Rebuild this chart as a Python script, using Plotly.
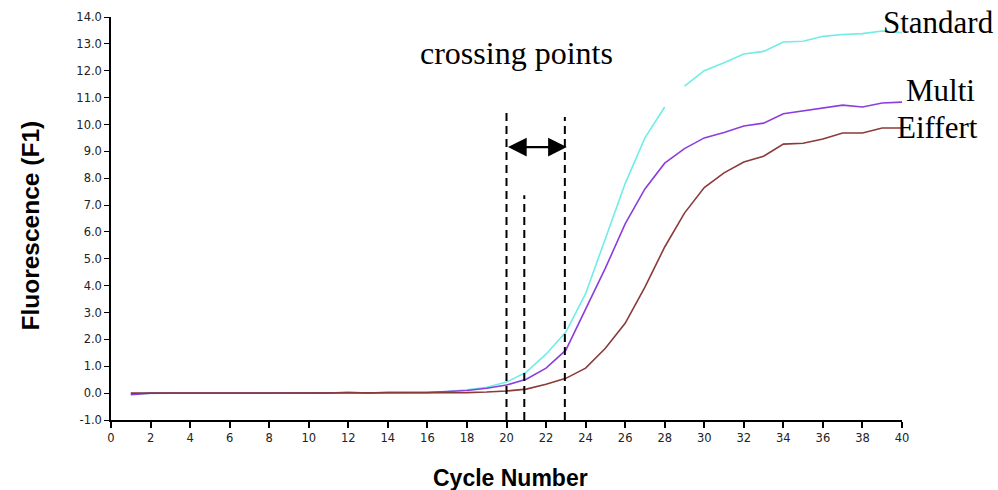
import plotly.graph_objects as go

# PCR amplification curves: fluorescence per cycle for three assays
cycles = list(range(1, 41))

standard = [-0.02, 0.0, 0.0, 0.0, 0.0, 0.0, 0.0, 0.0, 0.0, 0.0,
            0.0, 0.01, 0.01, 0.01, 0.02, 0.02, 0.06, 0.12, 0.22, 0.41,
            0.78, 1.45, 2.27, 3.7, 5.75, 7.8, 9.5, 10.65, 11.43, 12.0,
            12.3, 12.62, 12.72, 13.07, 13.1, 13.28, 13.35, 13.38, 13.48, 13.42]

multi = [-0.06, 0.0, 0.0, 0.0, 0.0, 0.0, 0.0, 0.0, 0.0, 0.0,
         0.0, 0.03, 0.0, 0.03, 0.03, 0.03, 0.06, 0.1, 0.18, 0.3,
         0.52, 0.93, 1.6, 3.1, 4.65, 6.3, 7.6, 8.56, 9.1, 9.5,
         9.7, 9.94, 10.05, 10.4, 10.5, 10.6, 10.72, 10.65, 10.8, 10.83]

eiffert = [0.0, 0.0, 0.0, 0.0, 0.0, 0.0, 0.0, 0.0, 0.0, 0.0,
           0.0, 0.0, 0.0, 0.0, 0.0, 0.0, 0.01, 0.02, 0.04, 0.08,
           0.15, 0.33, 0.55, 0.93, 1.67, 2.6, 3.95, 5.44, 6.7, 7.65,
           8.2, 8.6, 8.82, 9.27, 9.3, 9.46, 9.68, 9.68, 9.87, 9.87]

series_names = ["Standard", "Multi", "Eiffert"]
series_colors = ["#6FEDE6", "#8A3FDD", "#8B3A3A"]

# cycle after which the Standard trace has a break in its line
standard_break_after = 28

# crossing-point markers: (cycle, top of the dashed line)
crossing_x = [20.0, 20.9, 22.95]
crossing_top = [10.46, 7.37, 10.28]
arrow_y = 9.16

x_ticks = list(range(0, 41, 2))
y_ticks = [v for v in range(-1, 15)]
y_tick_text = [f"{v:.1f}" for v in y_ticks]

fig = go.Figure()

i = standard_break_after
std_x = cycles[:i] + [None] + cycles[i:]
std_y = standard[:i] + [None] + standard[i:]

for name, xs, ys, col in [
    (series_names[0], std_x, std_y, series_colors[0]),
    (series_names[1], cycles, multi, series_colors[1]),
    (series_names[2], cycles, eiffert, series_colors[2]),
]:
    fig.add_trace(go.Scatter(x=xs, y=ys, mode="lines", name=name,
                             line=dict(color=col, width=1.6),
                             connectgaps=False, showlegend=False))

# dashed vertical lines at the crossing points
for cx, top in zip(crossing_x, crossing_top):
    fig.add_shape(type="line", x0=cx, x1=cx, y0=-1, y1=top,
                  xref="x", yref="y",
                  line=dict(color="black", width=2, dash="8px,5px"))

# double-headed arrow between the outer crossing points
fig.add_annotation(x=crossing_x[2] + 0.1, y=arrow_y, ax=crossing_x[0], ay=arrow_y,
                   xref="x", yref="y", axref="x", ayref="y",
                   text="", showarrow=True, arrowhead=2, arrowside="end+start",
                   arrowsize=1.7, arrowwidth=2.2, arrowcolor="black")

serif = "Liberation Serif, Times New Roman, serif"
fig.add_annotation(x=20.5, y=12.66, xref="x", yref="y",
                   text="crossing points", showarrow=False,
                   font=dict(family=serif, size=32, color="black"))

# curve names placed just right of each curve's end
label_pos = [(standard[-1] + 0.39, 36), (multi[-1] + 0.45, 38), (eiffert[-1] + 0.03, 35)]
for name, (ly, dx) in zip(series_names, label_pos):
    fig.add_annotation(x=cycles[-1], y=ly, xref="x", yref="y", text=name,
                       showarrow=False, xanchor="center", xshift=dx,
                       font=dict(family=serif, size=31, color="black"))

sans = "Liberation Sans, Arial, sans-serif"
tick_font = dict(family="DejaVu Sans, Verdana, sans-serif", size=11.5, color="#222")

# axis titles, placed in paper space so the plot area keeps a fixed size
fig.add_annotation(x=0.5, y=0, xref="paper", yref="paper", xshift=4, yshift=-58,
                   text="<b>Cycle Number</b>", showarrow=False,
                   xanchor="center", yanchor="middle",
                   font=dict(family=sans, size=23, color="black"))
fig.add_annotation(x=0, y=0.5, xref="paper", yref="paper", xshift=-81, yshift=-7,
                   text="<b>Fluorescence (F1)</b>", showarrow=False, textangle=-90,
                   xanchor="center", yanchor="middle",
                   font=dict(family=sans, size=24.5, color="black"))

fig.update_layout(
    width=998, height=490,
    margin=dict(l=111, r=96, t=17, b=70),
    paper_bgcolor="white", plot_bgcolor="white",
    font=dict(family=sans, color="black"),
)

fig.update_xaxes(
    range=[0, 40], tickvals=x_ticks, ticks="outside", ticklen=6,
    tickcolor="black", tickwidth=1.5, automargin=False,
    showline=True, linecolor="black", linewidth=2, showgrid=False, zeroline=False,
    tickfont=tick_font,
)
fig.update_yaxes(
    range=[-1, 14], tickvals=y_ticks, ticktext=y_tick_text, ticks="outside",
    ticklen=5, tickcolor="black", tickwidth=1.2, automargin=False,
    showline=True, linecolor="black", linewidth=1.5, showgrid=False, zeroline=False,
    tickfont=tick_font,
)

fig.write_html("out.html")
